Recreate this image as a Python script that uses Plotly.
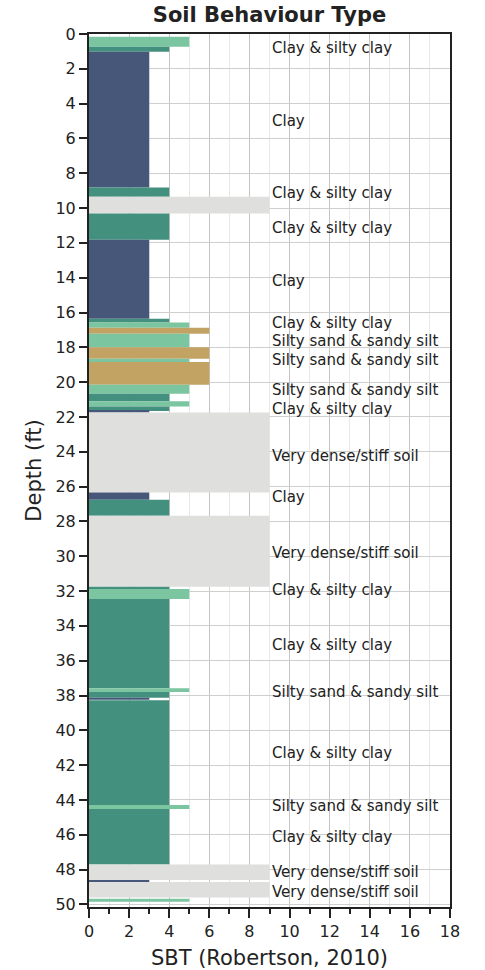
import plotly.graph_objects as go

# Layer data (depth in ft, SBT zone)
layer_top = [0.16, 0.73, 1.02, 8.82, 9.35, 10.31, 11.82, 16.36, 16.57, 16.88, 17.22, 17.99,
             18.66, 18.84, 20.15, 20.67, 21.09, 21.40, 21.65, 21.74, 26.34, 26.76, 27.67,
             31.75, 31.88, 32.45, 37.59, 37.80, 38.13, 38.27, 44.29, 44.52, 47.71, 48.60,
             48.71, 49.68]
layer_bottom = [0.73, 1.02, 8.82, 9.35, 10.31, 11.82, 16.36, 16.57, 16.88, 17.22, 17.99, 18.66,
                18.84, 20.15, 20.67, 21.09, 21.40, 21.65, 21.74, 26.34, 26.76, 27.67, 31.75,
                31.88, 32.45, 37.59, 37.80, 38.13, 38.25, 44.29, 44.52, 47.71, 48.60, 48.71,
                49.61, 49.85]
layer_sbt = [5, 4, 3, 4, 9, 4, 3, 4, 5, 6, 5, 6,
             5, 6, 5, 4, 5, 4, 3, 9, 3, 4, 9,
             4, 5, 4, 5, 4, 3, 4, 5, 4, 9, 3,
             9, 5]

# Layer descriptions
label_depth = [0.79, 4.98, 9.12, 11.13, 14.18, 16.59, 17.66, 18.70, 20.46, 21.55, 24.24,
               26.59, 29.81, 31.94, 35.10, 37.80, 41.30, 44.35, 46.13, 48.14, 49.29]
label_text = ["Clay & silty clay", "Clay", "Clay & silty clay", "Clay & silty clay", "Clay",
              "Clay & silty clay", "Silty sand & sandy silt", "Silty sand & sandy silt",
              "Silty sand & sandy silt", "Clay & silty clay", "Very dense/stiff soil", "Clay",
              "Very dense/stiff soil", "Clay & silty clay", "Clay & silty clay",
              "Silty sand & sandy silt", "Clay & silty clay", "Silty sand & sandy silt",
              "Clay & silty clay", "Very dense/stiff soil", "Very dense/stiff soil"]
label_x = 9

zone_colors = {3: "#46577a", 4: "#44907f", 5: "#7bc5a0", 6: "#c2a364", 9: "#dfdfdd"}

mid = [(t + b) / 2 for t, b in zip(layer_top, layer_bottom)]
thick = [b - t for t, b in zip(layer_top, layer_bottom)]
cols = [zone_colors[s] for s in layer_sbt]

fig = go.Figure()
fig.add_trace(go.Bar(
    x=layer_sbt, y=mid, width=thick, orientation="h",
    marker=dict(color=cols, line=dict(width=0)),
    showlegend=False, hoverinfo="x+y",
))

for d, t in zip(label_depth, label_text):
    fig.add_annotation(x=label_x, y=d, text=t, showarrow=False, xanchor="left",
                       yanchor="middle", xshift=0,
                       font=dict(family="DejaVu Sans", size=15, color="#222222"))

axis_font = dict(family="DejaVu Sans", size=16, color="#222222")
fig.update_layout(
    width=485, height=970,
    margin=dict(l=89, r=35, t=34, b=63),
    paper_bgcolor="white", plot_bgcolor="white",
    title=dict(text="<b>Soil Behaviour Type</b>", x=0.5, xref="paper", y=0.9845,
               yanchor="middle", xanchor="center",
               font=dict(family="DejaVu Sans", size=21, color="#222222")),
    font=dict(family="DejaVu Sans", color="#222222"),
)
fig.update_xaxes(
    range=[0, 18], dtick=2, tick0=0, ticks="outside", ticklen=9, tickwidth=2,
    tickcolor="#222222", showline=True, linecolor="#222222", linewidth=2, mirror=True,
    showgrid=True, gridcolor="#c4c4c4", gridwidth=1, zeroline=False, automargin=False,
    tickfont=axis_font,
    minor=dict(dtick=1, ticks="outside", ticklen=5, tickwidth=2, tickcolor="#222222",
               showgrid=True, gridcolor="#e8e8e8", gridwidth=1),
    title=dict(text="SBT (Robertson, 2010)", standoff=13,
               font=dict(family="DejaVu Sans", size=21, color="#222222")),
)
fig.update_yaxes(
    range=[50.15, 0], dtick=2, tick0=0, ticks="outside", ticklen=8, tickwidth=2,
    tickcolor="#222222", showline=True, linecolor="#222222", linewidth=2, mirror=True,
    showgrid=True, gridcolor="#cfcfcf", gridwidth=1, zeroline=False, automargin=False,
    tickfont=axis_font,
    title=dict(text="Depth (ft)", standoff=8,
               font=dict(family="DejaVu Sans", size=21, color="#222222")),
)

fig.write_html("out.html")
